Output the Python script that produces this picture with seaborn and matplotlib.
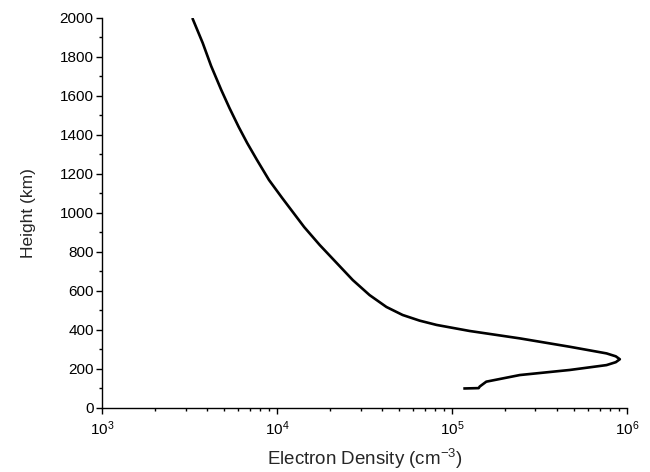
import numpy as np
import pandas as pd
import seaborn as sns
import matplotlib
matplotlib.use("Agg")
import matplotlib.pyplot as plt
from matplotlib.ticker import LogLocator, MultipleLocator

# electron density profile
height_km = [100, 102, 110, 118, 135, 169, 195, 220, 235, 250, 265, 280, 314,
             357, 395, 426, 448, 477, 518, 579, 656, 744, 836, 928,
             1077, 1169, 1272, 1359, 1441, 1538, 1631, 1754, 1872, 2000]
density_cm3 = [1.16e5, 1.42e5, 1.44e5, 1.48e5, 1.57e5, 2.44e5, 4.71e5, 7.64e5,
               8.63e5, 9.10e5, 8.63e5, 7.64e5, 4.71e5, 2.44e5, 1.26e5, 8.16e4,
               6.53e4, 5.22e4, 4.22e4, 3.38e4, 2.71e4, 2.19e4, 1.753e4, 1.429e4,
               1.070e4, 9.00e3, 7.68e3, 6.75e3, 6.04e3, 5.35e3, 4.80e3, 4.20e3,
               3.76e3, 3.28e3]

df = pd.DataFrame({'height': height_km, 'density': density_cm3})

sns.set_style("ticks")
plt.rcParams['font.family'] = ['Liberation Sans', 'DejaVu Sans']
plt.rcParams['mathtext.fontset'] = 'custom'
plt.rcParams['mathtext.rm'] = 'Liberation Sans'
plt.rcParams['mathtext.it'] = 'Liberation Sans:italic'

fig = plt.figure(figsize=(6.5, 4.72), dpi=100)
ax = fig.add_axes([0.157, 0.1356, 0.8076, 0.8263])

sns.lineplot(data=df, x='density', y='height', sort=False, estimator=None,
             color='black', linewidth=1.9, ax=ax)
for line in ax.lines:
    line.set_solid_joinstyle('round')
    line.set_solid_capstyle('butt')

ax.set_xscale('log')
ax.set_xlim(1e3, 1e6)
ax.set_ylim(0, 2000)
ax.yaxis.set_major_locator(MultipleLocator(200))
ax.yaxis.set_minor_locator(MultipleLocator(100))
ax.xaxis.set_minor_locator(LogLocator(base=10, subs=np.arange(2, 10)))

sns.despine(ax=ax)
for s in ['left', 'bottom']:
    ax.spines[s].set_linewidth(1.0)
    ax.spines[s].set_color('black')
ax.tick_params(which='major', direction='out', length=4.5, width=1.0,
               labelsize=11, colors='black', pad=1.5)
ax.tick_params(which='minor', direction='out', length=2.5, width=1.0, colors='black')
ax.tick_params(axis='x', which='major', pad=4)

ax.set_xlabel('Electron Density (cm$^{-3}$)', fontsize=13.5, labelpad=6)
ax.set_ylabel('Height (km)', fontsize=12.5, labelpad=17)

fig.savefig('out.png', dpi=100)
